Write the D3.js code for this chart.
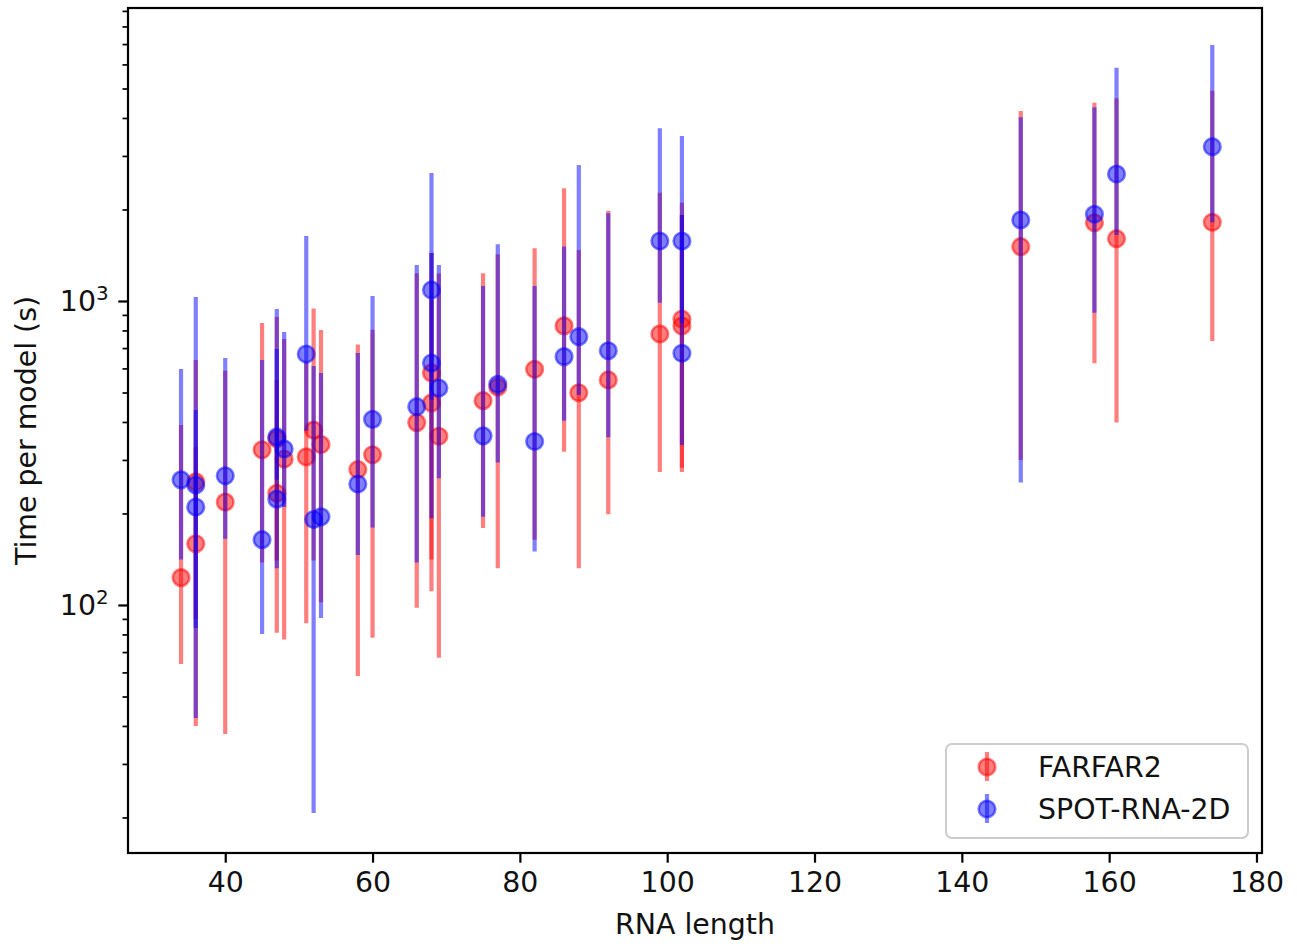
<!DOCTYPE html>
<html>
<head>
<meta charset="utf-8">
<script src="https://cdn.jsdelivr.net/npm/d3@7"></script>
<style>
  html, body { margin: 0; padding: 0; background: #fff; }
  svg { display: block; font-family: "DejaVu Sans", sans-serif; }
</style>
</head>
<body>
<svg id="chart" width="1297" height="947"></svg>
<script>
// ---- data ----
const rnaLength = [34, 36, 36, 40, 45, 47, 47, 48, 51, 52, 53, 58, 60, 66, 68, 68, 69, 75, 77, 82, 86, 88, 92, 99, 102, 102, 148, 158, 161, 174];

const farfarTime = [123, 254, 159, 218, 324, 352, 233, 302, 307, 376, 337, 279, 312, 398, 580, 462, 359, 470, 521, 596, 828, 499, 550, 779, 871, 828, 1509, 1809, 1603, 1815];
const farfarLow  = [64, 40, 90, 37.6, 138, 81, 140, 77, 87, 140, 102, 58.4, 78, 98, 111, 141, 67, 179, 132, 164, 319, 132, 199, 274, 274, 283, 300, 624, 398, 738];
const farfarHigh = [391, 639, 330, 589, 847, 886, 550, 750, 630, 944, 803, 719, 804, 1234, 1438, 1007, 1232, 1234, 1424, 1491, 2348, 1472, 1982, 2272, 2105, 1918, 4217, 4490, 4643, 4918];

const spotTime = [258, 248, 210, 266, 164, 357, 223, 326, 669, 191, 195, 250, 408, 449, 1087, 625, 517, 360, 532, 345, 656, 763, 686, 1575, 1575, 673, 1847, 1929, 2617, 3218];
const spotLow  = [141, 42.5, 84, 165, 80.3, 258, 132, 210, 374, 20.7, 90.6, 146, 180, 138, 193, 472, 261, 195, 294, 150, 404, 491, 356, 987, 846, 336, 253, 915, 1649, 1815];
const spotHigh = [597, 1031, 438, 649, 639, 695, 941, 791, 1636, 611, 580, 674, 1038, 1314, 2637, 1438, 1314, 1120, 1537, 1120, 1511, 2800, 1943, 3700, 3489, 1918, 4021, 4336, 5853, 6952];

const seriesNames = ["FARFAR2", "SPOT-RNA-2D"];
const xTicks = [40, 60, 80, 100, 120, 140, 160, 180];
const yMajorTicks = [100, 1000];
const yMajorExp = ["2", "3"];
const yMinorTicks = [20, 30, 40, 50, 60, 70, 80, 90, 200, 300, 400, 500, 600, 700, 800, 900, 2000, 3000, 4000, 5000, 6000, 7000, 8000, 9000];

// ---- layout ----
const pLeft = 128, pRight = 1262, pTop = 8, pBottom = 853;
const FS = 28.4;
const svg = d3.select("#chart");

const x = d3.scaleLinear().domain([26.8, 180.75]).range([pLeft, pRight]);
const y = d3.scaleLog().domain([15.28, 9200]).range([pBottom, pTop]);

const series = [
  { name: seriesNames[0], color: "255,0,0", t: farfarTime, lo: farfarLow, hi: farfarHigh },
  { name: seriesNames[1], color: "0,0,255", t: spotTime, lo: spotLow, hi: spotHigh }
];

const plot = svg.append("g");
series.forEach(s => {
  const rows = rnaLength.map((L, i) => ({ L, t: s.t[i], lo: s.lo[i], hi: s.hi[i] }));
  const g = plot.append("g");
  g.selectAll("line.err").data(rows).enter().append("line")
    .attr("class", "err")
    .attr("x1", d => x(d.L)).attr("x2", d => x(d.L))
    .attr("y1", d => y(d.lo)).attr("y2", d => y(d.hi))
    .attr("stroke", `rgba(${s.color},0.5)`).attr("stroke-width", 4.2);
  g.selectAll("circle").data(rows).enter().append("circle")
    .attr("cx", d => x(d.L)).attr("cy", d => y(d.t)).attr("r", 8.3)
    .attr("fill", `rgba(${s.color},0.5)`)
    .attr("stroke", `rgba(${s.color},0.5)`).attr("stroke-width", 2.6);
});

// ---- axes ----
const xAxis = d3.axisBottom(x).tickValues(xTicks).tickSizeOuter(0).tickSize(9.7).tickPadding(9.2);
const gx = svg.append("g").attr("transform", `translate(0,${pBottom})`).call(xAxis);
gx.select(".domain").remove();
gx.selectAll(".tick line").attr("stroke", "#000").attr("stroke-width", 2.2);
gx.selectAll(".tick text").attr("font-size", FS).attr("fill", "#111").attr("font-family", "DejaVu Sans");

const yAxis = d3.axisLeft(y).tickValues(yMajorTicks).tickSizeOuter(0).tickSize(9.7).tickPadding(9.7)
  .tickFormat(() => "");
const gy = svg.append("g").attr("transform", `translate(${pLeft},0)`).call(yAxis);
gy.select(".domain").remove();
gy.selectAll(".tick line").attr("stroke", "#000").attr("stroke-width", 2.2);
gy.selectAll(".tick text").each(function(d, i) {
  const t = d3.select(this).attr("font-size", FS).attr("fill", "#111").attr("font-family", "DejaVu Sans");
  t.text(null);
  t.append("tspan").text("10");
  t.append("tspan").attr("font-size", FS * 0.7).attr("dy", "-0.55em").text(yMajorExp[i]);
});

const yMinor = d3.axisLeft(y).tickValues(yMinorTicks).tickSizeOuter(0).tickSize(5.5).tickFormat(() => "");
const gym = svg.append("g").attr("transform", `translate(${pLeft},0)`).call(yMinor);
gym.select(".domain").remove();
gym.selectAll(".tick line").attr("stroke", "#000").attr("stroke-width", 1.7);

// spines
svg.append("rect").attr("x", pLeft).attr("y", pTop).attr("width", pRight - pLeft).attr("height", pBottom - pTop)
  .attr("fill", "none").attr("stroke", "#000").attr("stroke-width", 2.2);

// axis labels
svg.append("text").attr("x", (pLeft + pRight) / 2).attr("y", 934).attr("text-anchor", "middle")
  .attr("font-size", FS).attr("fill", "#111").text("RNA length");
svg.append("text").attr("transform", `translate(36,${(pTop + pBottom) / 2}) rotate(-90)`)
  .attr("text-anchor", "middle").attr("font-size", FS).attr("fill", "#111").text("Time per model (s)");

// ---- legend ----
const lg = svg.append("g");
lg.append("rect").attr("x", 946).attr("y", 744).attr("width", 302).attr("height", 94).attr("rx", 6)
  .attr("fill", "rgba(255,255,255,0.8)").attr("stroke", "#cccccc").attr("stroke-width", 2);
series.forEach((s, i) => {
  const cy = 767 + i * 42;
  lg.append("line").attr("x1", 987).attr("x2", 987).attr("y1", cy - 15).attr("y2", cy + 14)
    .attr("stroke", `rgba(${s.color},0.5)`).attr("stroke-width", 4.2);
  lg.append("circle").attr("cx", 987).attr("cy", cy).attr("r", 8.3)
    .attr("fill", `rgba(${s.color},0.5)`).attr("stroke", `rgba(${s.color},0.5)`).attr("stroke-width", 2.6);
  lg.append("text").attr("x", 1038).attr("y", cy + 10).attr("font-size", FS).attr("fill", "#111").text(s.name);
});
</script>
</body>
</html>
